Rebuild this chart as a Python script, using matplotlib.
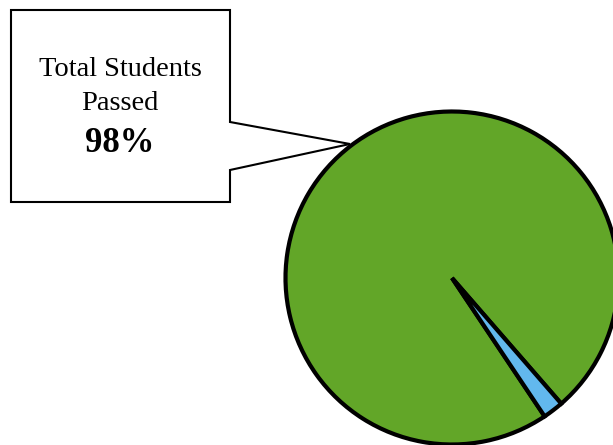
import matplotlib.pyplot as plt
from matplotlib.patches import Polygon

labels = ["Passed", "Not passed"]
shares = [98, 2]
colors = ["#62a628", "#62b8ee"]
callout_lines = ["Total Students", "Passed"]
callout_value = "98%"

W, H = 613, 445
fig = plt.figure(figsize=(W / 100, H / 100), dpi=100)
ax = fig.add_axes([0, 0, 1, 1])

# pie, drawn in pixel-like coordinates (y up)
ax.pie(shares, colors=colors, center=(452, H - 278), radius=166.5,
       startangle=-49.0, counterclock=True,
       wedgeprops=dict(edgecolor="black", linewidth=3.0, joinstyle="miter"))

# callout box with pointer
pts = [(11, 10), (230, 10), (230, 122), (350, 144), (230, 170), (230, 202), (11, 202)]
box = Polygon([(x, H - y) for x, y in pts], closed=True, facecolor="white",
              edgecolor="black", linewidth=1.5, zorder=0)
ax.add_patch(box)

ax.text(120, H - 70, callout_lines[0], ha="center", va="center",
        family="Liberation Serif", fontsize=20.5)
ax.text(120, H - 103, callout_lines[1], ha="center", va="center",
        family="Liberation Serif", fontsize=20.5)
ax.text(120, H - 143, callout_value, ha="center", va="center",
        family="Liberation Serif", fontsize=25, fontweight="bold")

ax.set_xlim(0, W)
ax.set_ylim(0, H)
ax.set_aspect("equal")
ax.axis("off")

fig.savefig("out.png", dpi=100)
